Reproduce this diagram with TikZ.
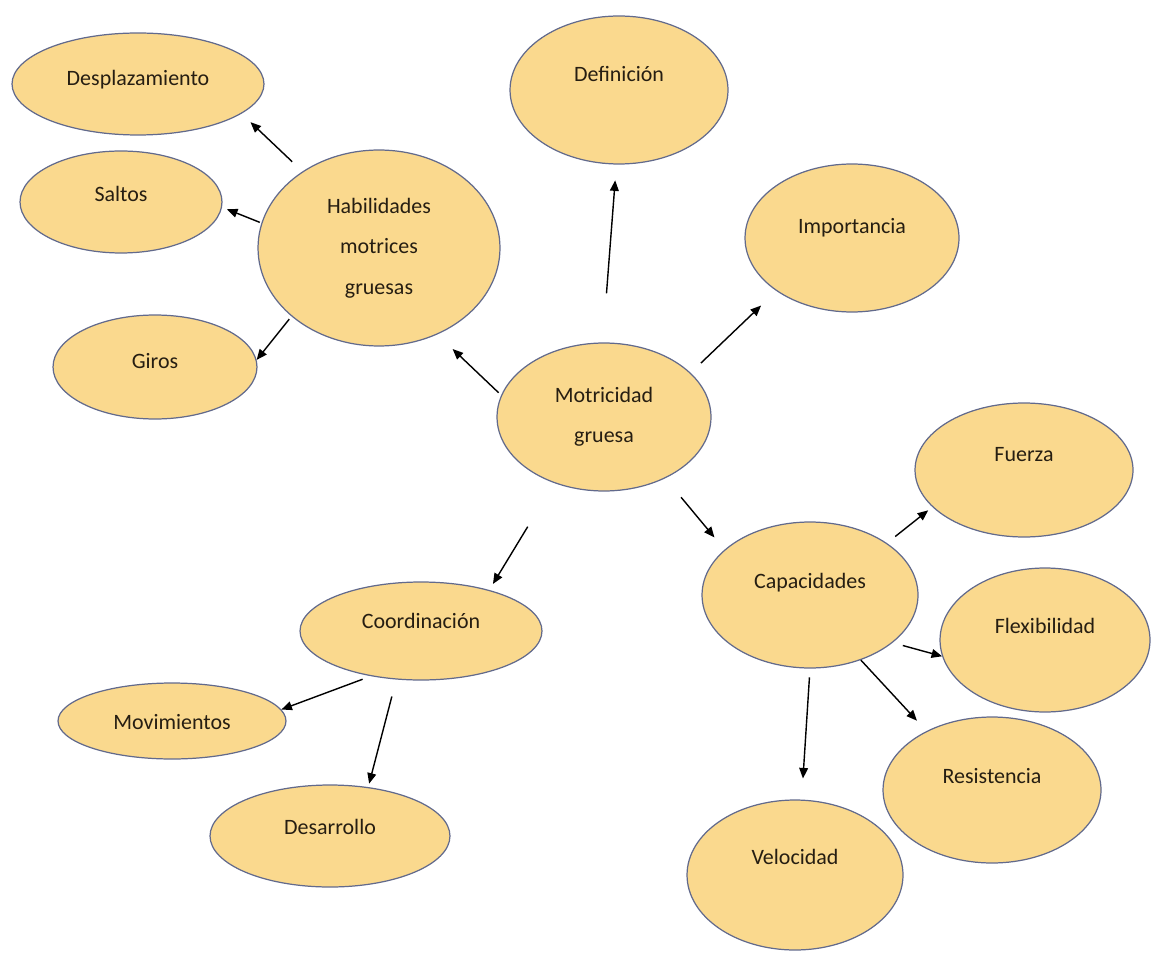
\documentclass[tikz,border=0pt]{standalone}
\usepackage{fontspec}
\setmainfont{Carlito}
\usetikzlibrary{shapes.geometric, arrows.meta}
\definecolor{ovalfill}{RGB}{250,217,142}
\definecolor{ovalline}{RGB}{98,106,140}
\definecolor{ink}{RGB}{38,30,18}

\begin{document}
\begin{tikzpicture}[x = 0.02cm, y = -0.02cm]
\tikzstyle{bubbleStyle} = [shape = ellipse, inner sep = 0pt, draw = ovalline, line width = 0.7pt, fill = ovalfill, text = ink, align = center, font = \fontsize{12.5}{23}\selectfont]
\tikzstyle{linkStyle} = [draw = black, line width = 0.8pt, -{Triangle[length = 6pt, width = 5pt]}]
\tikzset{lift/.style = {text height = 10pt, text depth = #1}}
\useasboundingbox (0, 0) rectangle (1151, 952);
\node[bubbleStyle, lift = 8.2pt, minimum width = 5.04cm, minimum height = 2.04cm] (desp) at (138, 84) {Desplazamiento};
\node[bubbleStyle, lift = 10.4pt, minimum width = 4.04cm, minimum height = 2.04cm] (saltos) at (121, 202) {Saltos};
\node[bubbleStyle, lift = 8.2pt, minimum width = 4.08cm, minimum height = 2.08cm] (giros) at (155, 367) {Giros};
\node[bubbleStyle, minimum width = 4.84cm, minimum height = 3.92cm] (hab) at (379, 248) {Habilidades\\motrices\\gruesas};
\node[bubbleStyle, lift = 19.5pt, minimum width = 4.36cm, minimum height = 2.96cm] (def) at (619, 90) {Definición};
\node[bubbleStyle, lift = 15pt, minimum width = 4.28cm, minimum height = 2.96cm] (imp) at (852, 238) {Importancia};
\node[bubbleStyle, minimum width = 4.28cm, minimum height = 2.96cm] (mot) at (604, 417) {Motricidad\\gruesa};
\node[bubbleStyle, lift = 17.2pt, minimum width = 4.32cm, minimum height = 2.92cm] (cap) at (810, 595) {Capacidades};
\node[bubbleStyle, lift = 19.5pt, minimum width = 4.36cm, minimum height = 2.68cm] (fuerza) at (1024, 470) {Fuerza};
\node[bubbleStyle, lift = 17.2pt, minimum width = 4.2cm, minimum height = 2.88cm] (flex) at (1045, 640) {Flexibilidad};
\node[bubbleStyle, lift = 17.2pt, minimum width = 4.36cm, minimum height = 2.92cm] (resist) at (992, 790) {Resistencia};
\node[bubbleStyle, lift = 21.8pt, minimum width = 4.32cm, minimum height = 3cm] (veloc) at (795, 875) {Velocidad};
\node[bubbleStyle, lift = 12.7pt, minimum width = 4.84cm, minimum height = 1.96cm] (coord) at (421, 631) {Coordinación};
\node[bubbleStyle, lift = 0.2pt, minimum width = 4.56cm, minimum height = 1.52cm] (movim) at (172, 721) {Movimientos};
\node[bubbleStyle, lift = 11.6pt, minimum width = 4.8cm, minimum height = 2.04cm] (desarr) at (330, 836) {Desarrollo};
\draw[linkStyle, shorten < = 8pt, shorten > = 7pt] (hab.135) -- (desp.-16);
\draw[linkStyle, shorten < = 1pt, shorten > = 3pt] (hab.168) -- (saltos.-3);
\draw[linkStyle, shorten < = 2pt] (hab.-142) -- (giros.4);
\draw[linkStyle, shorten < = 2pt, shorten > = 12pt] (mot.168) -- (hab.-56);
\draw[linkStyle, shorten < = 28pt, shorten > = 9pt] (mot.91) -- (def.-92);
\draw[linkStyle, shorten < = 8pt, shorten > = 12pt] (mot.27) -- (imp.-145);
\draw[linkStyle, shorten < = 29pt, shorten > = 4pt] (mot.-127) -- (coord.31);
\draw[linkStyle, shorten < = 14pt, shorten > = 9pt] (mot.-45) -- (cap.152);
\draw[linkStyle, shorten < = 6pt, shorten > = 3pt] (cap.34) -- (fuerza.-158);
\draw[linkStyle, shorten < = 6pt] (cap.-30) -- (flex.-171);
\draw[linkStyle, shorten > = 8pt] (cap.-52) -- (resist.138);
\draw[linkStyle, shorten < = 5pt, shorten > = 12pt] (cap.-90) -- (veloc.85);
\draw[linkStyle, shorten < = 5pt] (coord.-138) -- (movim.6);
\draw[linkStyle, shorten < = 10pt, shorten > = 2pt] (coord.-117) -- (desarr.52);
\end{tikzpicture}
\end{document}
